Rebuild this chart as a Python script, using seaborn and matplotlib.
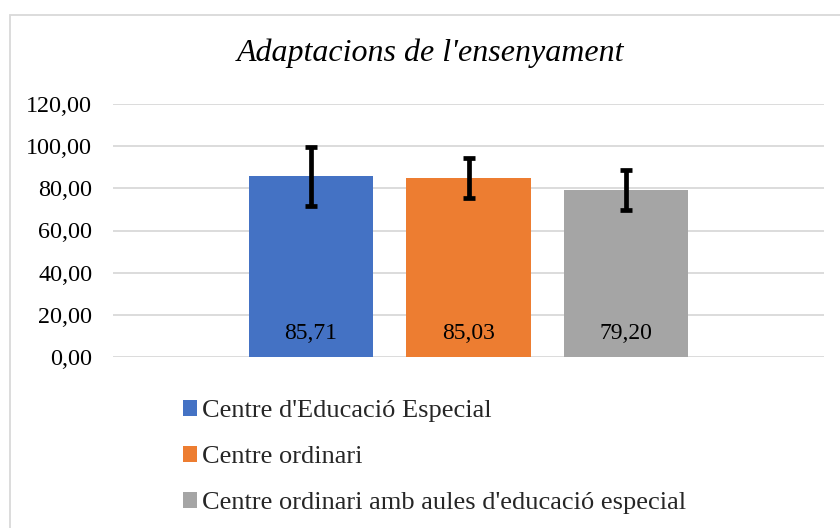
import matplotlib
matplotlib.use("Agg")
import matplotlib.pyplot as plt
import seaborn as sns
import pandas as pd
from matplotlib.patches import Rectangle
from matplotlib.ticker import FuncFormatter

# --- data ---
title = "Adaptacions de l'ensenyament"
group = "Adaptacions de l'ensenyament"
centres = ["Centre d'Educació Especial", "Centre ordinari",
           "Centre ordinari amb aules d'educació especial"]
means = [85.71, 85.03, 79.20]
errors = [14.1, 9.5, 9.5]
colors = ["#4472C4", "#ED7D31", "#A5A5A5"]
yticks = [0, 20, 40, 60, 80, 100, 120]

df = pd.DataFrame({"grup": [group] * len(centres), "centre": centres, "mitjana": means})

sns.set_theme(style="white")
plt.rcParams["font.family"] = ["Liberation Serif", "DejaVu Serif"]

fig = plt.figure(figsize=(8.4, 5.28), dpi=100)
ax = fig.add_axes([113 / 840, 1 - 357 / 528, (824 - 113) / 840, (357 - 104) / 528])

sns.barplot(data=df, x="grup", y="mitjana", hue="centre", hue_order=centres,
            palette=colors, width=0.665, gap=0.21, saturation=1, linewidth=0, ax=ax)

ax.set_xlim(-0.5, 0.5)
ax.set_ylim(0, 120)
ax.set_yticks(yticks)
ax.yaxis.set_major_formatter(FuncFormatter(lambda v, p: f"{v:.2f}".replace(".", ",")))
ax.set_xticks([])
ax.set_xlabel("")
ax.set_ylabel("")
ax.tick_params(axis="y", length=0, pad=15, labelsize=17.4, labelcolor="black")
ax.yaxis.grid(True, color="#d9d9d9", lw=1.3)
ax.set_axisbelow(True)
sns.despine(ax=ax, left=True, bottom=True)

# error bars and value labels, placed on the bars seaborn drew
for container, m, e in zip(ax.containers, means, errors):
    for bar in container:
        cx = bar.get_x() + bar.get_width() / 2
        ax.errorbar(cx, m, yerr=e, fmt="none", ecolor="black",
                    elinewidth=3.4, capsize=4.5, capthick=3.4, zorder=5)
        ax.annotate(f"{m:.2f}".replace(".", ","), (cx, 0), xytext=(0, 17),
                    textcoords="offset points", ha="center", va="center",
                    fontsize=17, color="black")

handles, labels = ax.get_legend_handles_labels()
ax.get_legend().remove()
fig.legend(handles, labels, loc="upper left", bbox_to_anchor=(170 / 840, 1 - 387 / 528),
           frameon=False, fontsize=19, handlelength=0.53, handleheight=0.53,
           handletextpad=0.19, labelspacing=0.9, borderpad=0)

fig.text(431 / 840, 1 - 53 / 528, title, ha="center", va="center",
         fontsize=23, style="italic", color="black")

# chart-area border (cut off at right and bottom like the reference)
fig.add_artist(Rectangle((10 / 840, -0.1), 1.2, 1 - 15 / 528 + 0.1,
                         transform=fig.transFigure, fill=False,
                         edgecolor="#d9d9d9", lw=1.3))

fig.savefig("out.png", dpi=100)
